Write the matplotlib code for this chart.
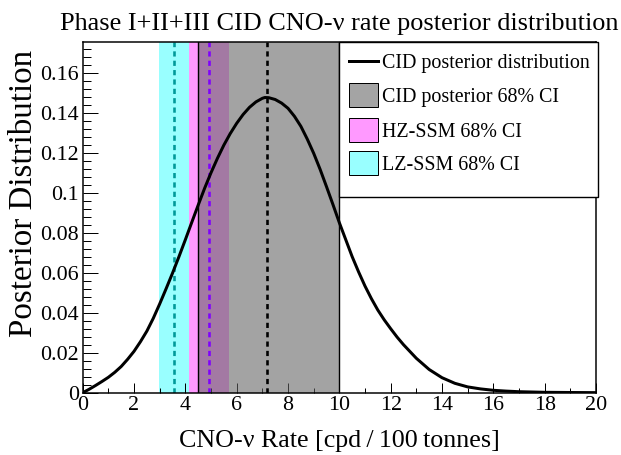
import matplotlib
matplotlib.use("Agg")
import matplotlib.pyplot as plt
from matplotlib.patches import Rectangle
from matplotlib.lines import Line2D
from matplotlib.ticker import MultipleLocator, FixedLocator

# ---- data ----
rate = [0.0, 0.25, 0.5, 0.75, 1.0, 1.25, 1.5, 1.75, 2.0, 2.25, 2.5, 2.75,
        3.0, 3.25, 3.5, 3.75, 4.0, 4.25, 4.5, 4.75, 5.0, 5.25, 5.5, 5.75,
        6.0, 6.25, 6.5, 6.75, 7.0, 7.1, 7.25, 7.5, 7.75, 8.0, 8.25, 8.5,
        8.75, 9.0, 9.25, 9.5, 9.75, 10.0, 10.25, 10.5, 10.75, 11.0, 11.25,
        11.5, 11.75, 12.0, 12.25, 12.5, 13.0, 13.5, 14.0, 14.5, 15.0, 15.5,
        16.0, 16.5, 17.0, 18.0, 19.0, 20.0]
posterior = [0.0, 0.0017, 0.0036, 0.0056, 0.0077, 0.0102, 0.0131, 0.0167,
             0.0207, 0.0255, 0.0308, 0.0372, 0.0444, 0.0520, 0.0598, 0.0680,
             0.0765, 0.0852, 0.0938, 0.1022, 0.1100, 0.1172, 0.1238, 0.1296,
             0.1347, 0.1391, 0.1427, 0.1454, 0.1472, 0.1476, 0.1475, 0.1466,
             0.1448, 0.1422, 0.1382, 0.1332, 0.1268, 0.1197, 0.1117, 0.1030,
             0.0941, 0.0850, 0.0765, 0.0680, 0.0604, 0.0533, 0.0470, 0.0413,
             0.0364, 0.0320, 0.0278, 0.0240, 0.0172, 0.0116, 0.0075, 0.0047,
             0.0029, 0.0019, 0.0012, 0.0008, 0.0005, 0.0002, 0.0001, 0.00003]

cid_ci = (4.50, 10.00)
cid_median = 7.17
hz_ci = (4.14, 5.69)
hz_central = 4.93
lz_ci = (2.97, 4.14)
lz_central = 3.56

legend_labels = ["CID posterior distribution", "CID posterior 68% CI",
                 "HZ-SSM 68% CI", "LZ-SSM 68% CI"]
title = "Phase I+II+III CID CNO-\u03bd rate posterior distribution"
xlabel = "CNO-\u03bd Rate [cpd\u2009/\u2009100\u2009tonnes]"
ylabel = "Posterior Distribution"
yticks = [0, 0.02, 0.04, 0.06, 0.08, 0.1, 0.12, 0.14, 0.16]
ytick_labels = ["0", "0.02", "0.04", "0.06", "0.08", "0.1", "0.12", "0.14", "0.16"]
xticks = [0, 2, 4, 6, 8, 10, 12, 14, 16, 18, 20]

# ---- styling ----
W, H = 621, 455
DPI = 100
def px(v):
    return v * 72.0 / DPI

plt.rcParams['font.family'] = ['Liberation Serif', 'DejaVu Serif']

fig = plt.figure(figsize=(W / DPI, H / DPI), dpi=DPI)
L, R, T, B = 82.7, 596.0, 42.0, 392.7
ax = fig.add_axes([L / W, 1 - B / H, (R - L) / W, (B - T) / H])

cyan = '#99FFFF'
magenta = '#FF99FF'
ax.axvspan(*lz_ci, color=cyan, lw=0, zorder=1)
ax.axvspan(*hz_ci, color=magenta, lw=0, zorder=1)
ax.axvspan(*cid_ci, facecolor=(0.39, 0.39, 0.39, 0.59), edgecolor='none', zorder=2)
for xe in cid_ci:
    ax.axvline(xe, color='black', lw=px(1.4), zorder=3)

ax.plot(rate, posterior, color='black', lw=px(3.0), zorder=5,
        solid_joinstyle='round', solid_capstyle='butt')

ax.axvline(lz_central, color='#009999', lw=px(2.6), ls=(0, (2.0, 1.6)), zorder=4)
ax.axvline(hz_central, color='#8000FF', lw=px(2.6), ls=(0, (2.0, 1.6)), zorder=4)
ax.axvline(cid_median, color='black', lw=px(2.6), ls=(0, (2.0, 1.6)), zorder=4)

ax.set_xlim(0, 20)
ax.set_ylim(0, (B - T) / 2000.0)

ax.xaxis.set_major_locator(FixedLocator(xticks))
ax.xaxis.set_minor_locator(MultipleLocator(1))
ax.yaxis.set_major_locator(FixedLocator(yticks))
ax.set_yticklabels(ytick_labels)
ax.yaxis.set_minor_locator(MultipleLocator(0.004))
ax.set_xticklabels([str(t) for t in xticks])

tick_fs = px(22)
ax.tick_params(axis='both', which='both', direction='in', top=False, right=False,
               width=px(1.0), colors='black', labelsize=tick_fs)
ax.tick_params(axis='x', which='major', length=px(10), pad=px(3))
ax.tick_params(axis='x', which='minor', length=px(5))
ax.tick_params(axis='y', which='major', length=px(15), pad=px(4))
ax.tick_params(axis='y', which='minor', length=px(7.5))
for s in ax.spines.values():
    s.set_linewidth(px(1.5))
    s.set_zorder(6)

# title and axis labels
fig.text((L + R) / 2 / W, 1 - 30 / H, title, ha='center', va='baseline', fontsize=px(26.3))
fig.text((L + R) / 2 / W, 1 - 447 / H, xlabel, ha='center', va='baseline', fontsize=px(26))
fig.text(24 / W, 1 - 193 / H, ylabel, ha='center', va='center', rotation=90, fontsize=px(33))

# legend box (axes fraction coords)
lx0, lx1, ly0, ly1 = 0.5, 1.004, 0.558, 1.0
ax.add_patch(Rectangle((lx0, ly0), lx1 - lx0, ly1 - ly0, transform=ax.transAxes,
                       facecolor='white', edgecolor='black', lw=px(1.4), zorder=10,
                       clip_on=False))
rows = [0.947, 0.849, 0.749, 0.655]
sx0, sx1 = 0.519, 0.575
bh = 0.066
ax.add_line(Line2D([sx0, sx1], [rows[0], rows[0]], transform=ax.transAxes,
                   color='black', lw=px(3.0), zorder=11))
for r, fc in zip(rows[1:], ['#A4A4A4', magenta, cyan]):
    ax.add_patch(Rectangle((sx0, r - bh / 2), sx1 - sx0, bh, transform=ax.transAxes,
                           facecolor=fc, edgecolor='black', lw=px(1.0), zorder=11))
for r, lab in zip(rows, legend_labels):
    ax.text(0.583, r, lab, transform=ax.transAxes, ha='left', va='center_baseline',
            fontsize=px(20), zorder=12)

fig.savefig('out.png', dpi=DPI)
